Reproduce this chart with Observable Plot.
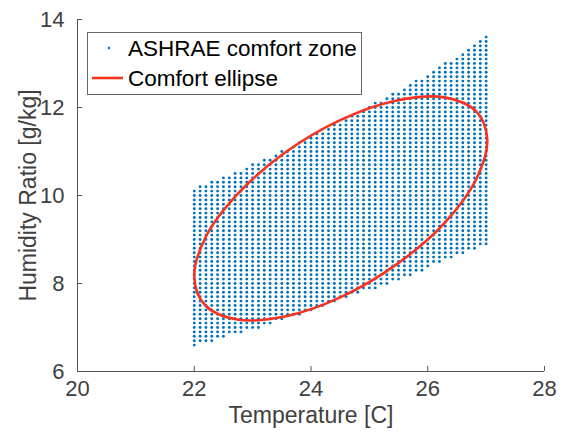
<!DOCTYPE html>
<html><head><meta charset="utf-8">
<script src="https://cdn.jsdelivr.net/npm/d3@7"></script>
<script src="https://cdn.jsdelivr.net/npm/@observablehq/plot@0.6"></script>
<style>
body{margin:0;background:#fff}
#chart{position:relative;width:564px;height:437px}
</style>
</head><body><div id="chart"></div>
<script>
// Tick values
const xTicks = [20, 22, 24, 26, 28];
const yTicks = [6, 8, 10, 12, 14];

// ASHRAE comfort zone: read lower/upper humidity-ratio bounds at each integer temperature
const zoneTemps = [22, 23, 24, 25, 26, 27];
const zoneLower = [6.58, 6.95, 7.38, 7.85, 8.35, 8.88];
const zoneUpper = [10.15, 10.70, 11.33, 12.03, 12.75, 13.62];
const tempStep = 0.1;   // grid spacing of the sampled zone (°C)
const humStep = 0.1;    // grid spacing of the sampled zone (g/kg)

// Comfort ellipse: points read around the curve
const ellipseT = [27.02, 26.83, 26.29, 25.47, 24.51, 23.55, 22.74, 22.19, 22.00, 22.19, 22.74, 23.55, 24.51, 25.47, 26.29, 26.83];
const ellipseW = [11.26, 11.91, 12.23, 12.16, 11.72, 10.97, 10.03, 9.04, 8.15, 7.50, 7.18, 7.25, 7.69, 8.44, 9.38, 10.37];

// Build tables
function boundAt(arr, t) {
  for (let i = 0; i < zoneTemps.length - 1; i++) {
    if (t <= zoneTemps[i + 1] + 1e-9) {
      const f = (t - zoneTemps[i]) / (zoneTemps[i + 1] - zoneTemps[i]);
      return arr[i] + f * (arr[i + 1] - arr[i]);
    }
  }
  return arr[arr.length - 1];
}
const zone = [];
const nCols = Math.round((zoneTemps[zoneTemps.length - 1] - zoneTemps[0]) / tempStep);
for (let i = 0; i <= nCols; i++) {
  const t = +(zoneTemps[0] + i * tempStep).toFixed(2);
  const lo = boundAt(zoneLower, t), hi = boundAt(zoneUpper, t);
  for (let j = Math.ceil(lo / humStep - 1e-9); j <= Math.floor(hi / humStep + 1e-9); j++) {
    zone.push({t, w: +(j * humStep).toFixed(2)});
  }
}
const ellipse = ellipseT.map((t, i) => ({t, w: ellipseW[i]}));

const axisColor = "#555";
const textColor = "#404040";
const fontFamily = "'Liberation Sans', Arial, Helvetica, sans-serif";

const plot = Plot.plot({
  width: 564, height: 437,
  marginLeft: 77, marginRight: 20, marginTop: 19, marginBottom: 66,
  style: {fontFamily, background: "#fff", color: textColor, fontSize: "22px"},
  x: {domain: [20, 28], ticks: xTicks, tickSize: 0, tickPadding: 9, label: null},
  y: {domain: [6, 14], ticks: yTicks, tickSize: 0, tickPadding: 13, label: null},
  marks: [
    Plot.dot(zone, {x: "t", y: "w", r: 1.45, fill: "#0072BD", stroke: "none"}),
    Plot.line(ellipse, {x: "t", y: "w", curve: "catmull-rom-closed", stroke: "#f5331f", strokeWidth: 2.6}),
    Plot.ruleX([xTicks[0]], {stroke: axisColor}),
    Plot.ruleY([yTicks[0]], {stroke: axisColor}),
    Plot.tickX(xTicks, {x: d => d, insetTop: 347, stroke: axisColor}),
    Plot.tickY(yTicks, {y: d => d, insetRight: 462, stroke: axisColor}),
    Plot.text(["Temperature [C]"], {frameAnchor: "bottom", dy: 51, fontSize: 23, fill: textColor, textAnchor: "middle"}),
    Plot.text(["Humidity Ratio [g/kg]"], {frameAnchor: "left", dx: -49, rotate: -90, fontSize: 23, fill: textColor, textAnchor: "middle"})
  ]
});
document.getElementById("chart").appendChild(plot);

// Legend (MATLAB-style box with white background)
const svg = d3.select(plot);
const lg = svg.append("g").attr("font-family", fontFamily).attr("font-size", 22.5).attr("text-anchor", "start");
lg.append("rect").attr("x", 87.5).attr("y", 32.5).attr("width", 274).attr("height", 62)
  .attr("fill", "#fff").attr("stroke", "#666").attr("stroke-width", 1);
lg.append("circle").attr("cx", 109).attr("cy", 48).attr("r", 1.2).attr("fill", "#0072BD");
lg.append("text").attr("x", 128).attr("y", 48).attr("dy", "0.35em").attr("fill", "#000").text("ASHRAE comfort zone");
lg.append("line").attr("x1", 92).attr("x2", 123).attr("y1", 78).attr("y2", 78)
  .attr("stroke", "#f5331f").attr("stroke-width", 2.6);
lg.append("text").attr("x", 128).attr("y", 78).attr("dy", "0.35em").attr("fill", "#000").text("Comfort ellipse");
</script>
</body></html>
